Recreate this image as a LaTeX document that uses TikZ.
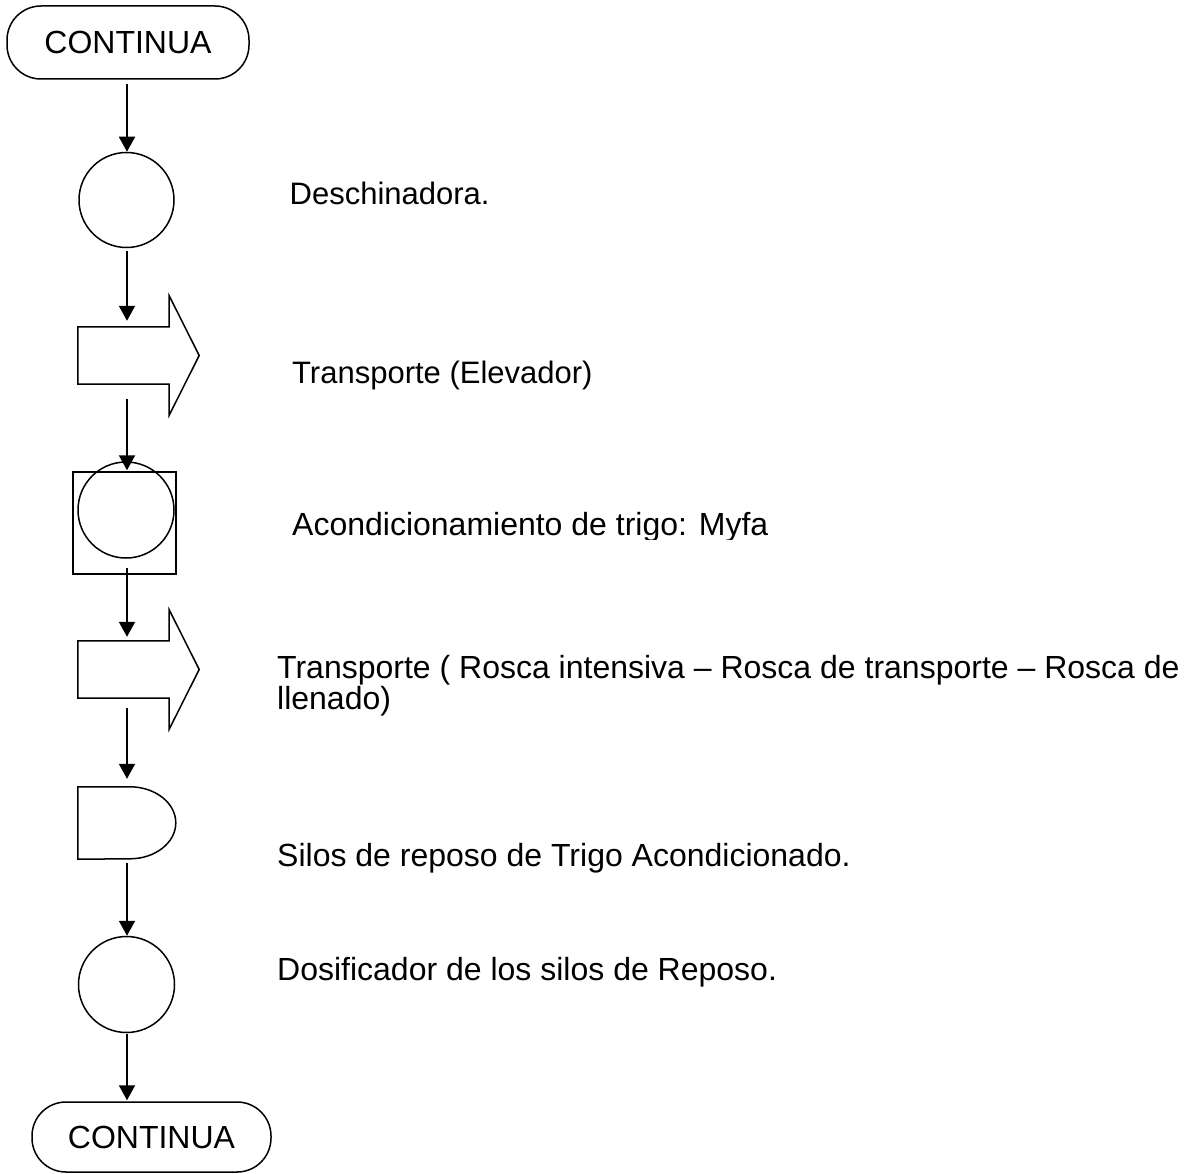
\documentclass[tikz,border=0pt]{standalone}
\usepackage{fontspec}
\setmainfont{Liberation Sans}
\usetikzlibrary{arrows.meta,calc}
\begin{document}
\begin{tikzpicture}[x=1pt,y=-1pt,
  outline/.style={draw=black, line width=1.5pt},
  terminal/.style={outline, rectangle, rounded corners=34pt, inner sep=0pt,
    font=\fontsize{32}{38}\selectfont},
  opcircle/.style={outline, circle, inner sep=0pt, minimum size=96pt},
  frame/.style={rectangle, draw=none, inner sep=0pt},
  flow/.style={line width=1.9pt, -{Triangle[width=16pt,length=15pt]}},
  label/.style={anchor=base west, inner sep=0pt, font=\fontsize{31.5}{38}\selectfont},
]
\useasboundingbox (0,0) rectangle (1196,1174);

% vertical line of the flow
\coordinate (spine) at (127,0);

% start connector
\node[terminal, minimum width=242pt, minimum height=73pt] (start) at (128,42.5) {CONTINUA\hspace{16pt}};

% operation: Deschinadora
\node[opcircle, minimum size=95pt] (op1) at (126.5,200) {};

% transport (Elevador)
\node[frame, minimum width=91pt, minimum height=57pt] (tr1) at (123.5,355.5) {};
\draw[outline, line join=miter] (tr1.north west) -- (tr1.north east) -- ++(0,-31)
  -- ($(tr1.east)+(30,0)$) -- ($(tr1.south east)+(0,31)$) -- (tr1.south east)
  -- (tr1.south west) -- cycle;

% combined operation / inspection: acondicionamiento
\node[outline, rectangle, inner sep=0pt, minimum width=103pt, minimum height=102pt] (insp) at (124.5,523) {};
\node[opcircle] (op2) at (126,510) {};

% transport (roscas)
\node[frame, minimum width=91pt, minimum height=57pt] (tr2) at (123.5,669.5) {};
\draw[outline, line join=miter] (tr2.north west) -- (tr2.north east) -- ++(0,-31)
  -- ($(tr2.east)+(30,0)$) -- ($(tr2.south east)+(0,31)$) -- (tr2.south east)
  -- (tr2.south west) -- cycle;

% storage: silos de reposo
\node[frame, minimum width=98pt, minimum height=72pt] (silo) at (127,823) {};
\draw[outline] (silo.north west) -- ++(52,0)
  arc[start angle=90, end angle=-90, x radius=46pt, y radius=36pt]
  -- (silo.south west) -- cycle;

% operation: dosificador
\node[opcircle] (op3) at (126.5,984.5) {};

% end connector
\node[terminal, minimum width=239pt, minimum height=70pt] (stop) at (151.5,1137) {CONTINUA\hspace{14pt}};

% flow lines
\draw[flow, shorten <=4pt] (start.south -| spine) -- (op1.north -| spine);
\draw[flow, shorten <=3pt, shorten >=6pt] (op1.south -| spine) -- (tr1.north -| spine);
\draw[flow, shorten <=15pt, shorten >=1pt] (tr1.south -| spine) -- (insp.north -| spine);
\draw[flow, shorten <=-7pt, shorten >=4pt] (insp.south -| spine) -- (tr2.north -| spine);
\draw[flow, shorten <=10pt, shorten >=8pt] (tr2.south -| spine) -- (silo.north -| spine);
\draw[flow, shorten <=4pt] (silo.south -| spine) -- (op3.north -| spine);
\draw[flow, shorten <=1pt, shorten >=1pt] (op3.south -| spine) -- (stop.north -| spine);

% descriptions
\node[label, font=\fontsize{31}{38}\selectfont] (txt1) at (289.5,205) {Deschinadora.};
\node[label, font=\fontsize{31}{38}\selectfont] (txt2) at (292,383) {Transporte (Elevador)};
\begin{scope}
  \clip (280,490) rectangle (800,539);
  \node[label, font=\fontsize{32}{38}\selectfont] (txt3) at (292,535) {Acondicionamiento de trigo: Myfa};
\end{scope}
\node[label, font=\fontsize{32}{38}\selectfont] (txt4) at (277,678) {Transporte ( Rosca intensiva – Rosca de transporte – Rosca de};
\node[label, font=\fontsize{32}{38}\selectfont] (txt4b) at (277,709) {llenado)};
\node[label, font=\fontsize{32}{38}\selectfont] (txt5) at (277,866) {Silos de reposo de Trigo Acondicionado.};
\node[label, font=\fontsize{32}{38}\selectfont] (txt6) at (277,980) {Dosificador de los silos de Reposo.};
\end{tikzpicture}
\end{document}
